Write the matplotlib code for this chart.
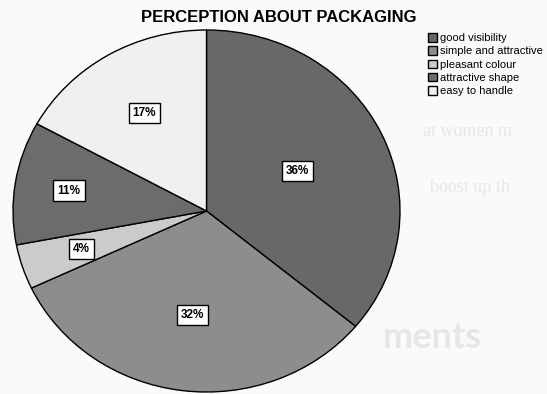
import numpy as np
import matplotlib.pyplot as plt

# survey answers (percent of respondents)
categories = ['good visibility', 'simple and attractive', 'pleasant colour',
              'attractive shape', 'easy to handle']
shares = [36, 32, 4, 11, 17]

colors = ['#686868', '#8d8d8d', '#cbcbcb', '#6c6c6c', '#f0f0f0']
label_dist = [0.52, 0.58, 0.68, 0.72, 0.63]

plt.rcParams['font.family'] = ['Liberation Sans', 'DejaVu Sans']

fig = plt.figure(figsize=(5.47, 3.94), dpi=100, facecolor='#fafafa')

# faint print showing through from the other side of the page
ghost = dict(color='#e6e6e6', family='Liberation Serif', fontsize=13, zorder=-1)
fig.text(423 / 547, 1 - 132 / 394, 'at women m', va='center', **ghost)
fig.text(430 / 547, 1 - 188 / 394, 'boost up th', va='center', **ghost)
fig.text(482 / 547, 1 - 338 / 394, 'ments', ha='right', va='center',
         color='#e6e6e6', family='Lato', fontsize=26, fontweight='bold', zorder=-1)

ax = fig.add_axes([13 / 547, 2 / 394, 387 / 547, 362 / 394])
wedges, _ = ax.pie(shares, colors=colors, startangle=90, counterclock=False,
                   wedgeprops=dict(edgecolor='black', linewidth=1))
ax.set_aspect('auto')
ax.set_xlim(-1, 1)
ax.set_ylim(-1, 1)
ax.patch.set_visible(False)

for w, d, s in zip(wedges, label_dist, shares):
    ang = np.deg2rad((w.theta1 + w.theta2) / 2)
    ax.text(d * np.cos(ang), d * np.sin(ang), f'{s}%', ha='center', va='center',
            fontsize=8.5, fontweight='bold',
            bbox=dict(boxstyle='square,pad=0.35', fc='white', ec='black', lw=1))

fig.text(279 / 547, 1 - 18 / 394, 'PERCEPTION ABOUT PACKAGING', ha='center',
         va='center', fontsize=12, fontweight='bold')

fig.legend(wedges, categories, loc='upper left', bbox_to_anchor=(427 / 547, 1 - 32 / 394),
           frameon=False, fontsize=8, handlelength=0.8, handleheight=0.8,
           handletextpad=0.3, labelspacing=0.28, borderpad=0.1, borderaxespad=0)

plt.savefig('out.png', dpi=100, facecolor=fig.get_facecolor())
